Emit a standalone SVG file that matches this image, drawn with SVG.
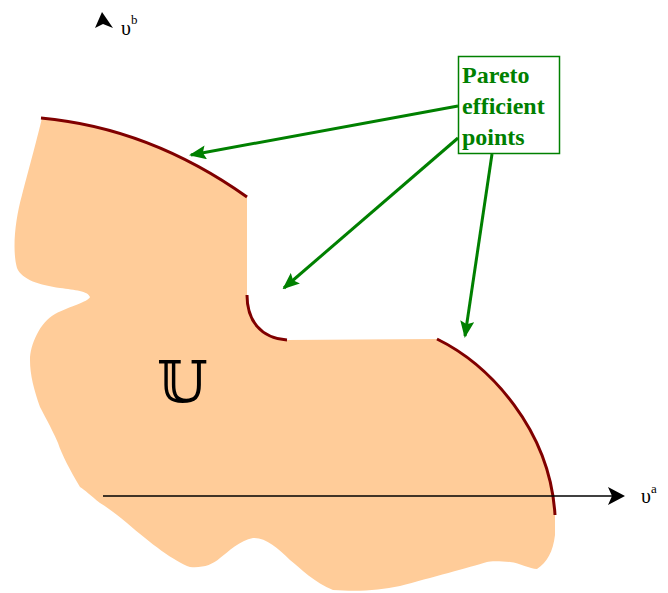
<svg xmlns="http://www.w3.org/2000/svg" width="668" height="593" viewBox="0 0 668 593">
<style>
.frontier{fill:none;stroke:#800000;stroke-width:3;stroke-linecap:butt}
.ptr{fill:none;stroke:#008000;stroke-width:3}
.lbl{font-family:"Liberation Serif","DejaVu Serif",serif;font-weight:bold;font-size:24px;fill:#008000}
.ax{font-family:"Liberation Serif","DejaVu Serif",serif;font-size:20px;fill:#000}
</style>
<defs>
<marker id="gh" viewBox="0 0 17 14" refX="15" refY="7" markerWidth="17" markerHeight="14" markerUnits="userSpaceOnUse" orient="auto">
<path d="M0,0 L17,7 L0,14 L3,7 Z" fill="#008000"/>
</marker>
</defs>
<rect width="668" height="593" fill="#fff"/>
<g id="region">
<path d="M42,118 Q150,128 247,197 L247,295 C247,320 260,338 287,340 L437,339 C490,365 550,430 555,515 L555,535 C553,552 547,562 537,569 C530,569 520,563 510,562 C500,561 490,561 487,562 C470,567 430,578 400,586 C380,590 360,592 333,590 C315,583 300,568 290,560 C278,548 265,537 253,538 C240,540 228,552 220,558 C212,565 203,568 190,567 C175,562 150,543 127,523 C115,513 105,506 100,503 C90,495 85,490 80,487 C70,470 62,455 58,443 C50,425 44,415 40,407 C34,390 30,375 30,360 C30,345 40,322 55,314 C70,306 88,302 90,297 C88,291 75,290 60,288 C40,285 22,280 17,268 C12,250 15,220 22,195 C30,165 38,135 42,118 Z" fill="#FFCC99"/>
<text x="157" y="402" font-family="'DejaVu Serif','Liberation Serif',serif" font-size="58" fill="#000">𝕌</text>
</g>
<g id="frontiers">
<path class="frontier" d="M41,118 Q150,128 247,197"/>
<path class="frontier" d="M247,295 C247,320 260,338 287,340"/>
<path class="frontier" d="M437,339 C490,365 550,430 555,515"/>
</g>
<g id="axes">
<line x1="103" y1="496" x2="612" y2="496" stroke="#000" stroke-width="1.5"/>
<path d="M625,496 L608,487 L612,496 L608,505 Z" fill="#000"/>
<text class="ax" x="641" y="503">υ<tspan font-size="13" dy="-10">a</tspan></text>
<path d="M102,12 L113,28 L103,24 L95,28 Z" fill="#000"/>
<text class="ax" x="121" y="35">υ<tspan font-size="13" dy="-11">b</tspan></text>
</g>
<g id="label">
<rect x="458.5" y="56.5" width="101" height="97" fill="#fff" stroke="#008000" stroke-width="1.5"/>
<text class="lbl" x="462" y="83">Pareto</text>
<text class="lbl" x="462" y="114">efficient</text>
<text class="lbl" x="462" y="145">points</text>
</g>
<g id="connectors">
<line class="ptr" x1="458" y1="106" x2="191" y2="155" marker-end="url(#gh)"/>
<line class="ptr" x1="458" y1="138" x2="284" y2="288" marker-end="url(#gh)"/>
<line class="ptr" x1="492" y1="154" x2="465" y2="336" marker-end="url(#gh)"/>
</g>
</svg>
